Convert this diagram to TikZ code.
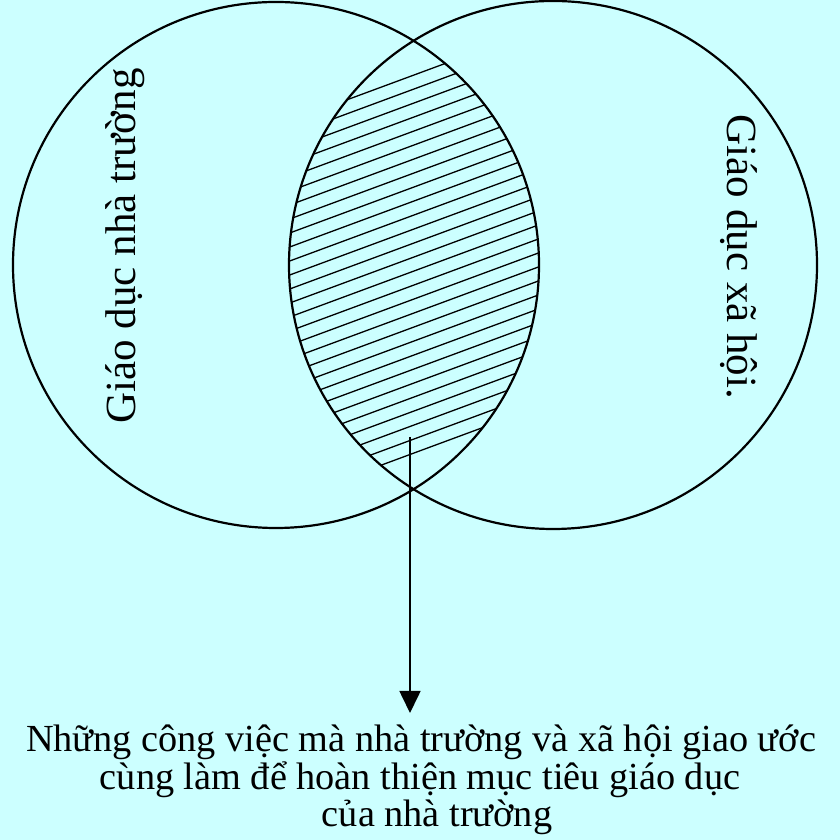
\documentclass[tikz,border=0pt]{standalone}
\usepackage{fontspec}
\setmainfont{Liberation Serif}
\usetikzlibrary{arrows.meta}
\definecolor{bgcyan}{RGB}{204,255,255}
\tikzset{
  ring/.style={draw=black, line width=2.2pt},
  hatchline/.style={draw=black, line width=1.3pt},
  pointer/.style={draw=black, line width=1.6pt, -{Triangle[width=21pt,length=22pt]}},
  sidelabel/.style={font=\fontsize{43}{43}\selectfont, inner sep=0pt, anchor=base},
  caption/.style={font=\fontsize{38.3}{38}\selectfont, inner sep=0pt, anchor=base}
}
\begin{document}
\begin{tikzpicture}[x=1pt,y=1pt]
  \fill[bgcyan] (0,0) rectangle (840,840);
  \useasboundingbox (0,0) rectangle (840,840);
  % hatching of the common part
  \begin{scope}
    \clip (276,575) circle (263);
    \clip (553,575) circle (264);
    \foreach \k in {0,...,27} {
      \draw[hatchline] (280,{840-75-14*\k-49.6}) -- (550,{840-75-14*\k+50.3});
    }
  \end{scope}
  % the two circles
  \draw[ring] (276,575) circle (263);
  \draw[ring] (553,575) circle (264);
  % labels
  \node[sidelabel, rotate=90] (lschool) at (135,594) {Giáo dục nhà trường};
  \node[sidelabel, rotate=-90] (lsociety) at (727,583) {Giáo dục xã hội.};
  % caption
  \node[caption] (t1) at (421,88) {Những công việc mà nhà trường và xã hội giao ước};
  \node[caption] (t2) at (420,50) {cùng làm để hoàn thiện mục tiêu giáo dục};
  \node[caption] (t3) at (437,13) {của nhà trường};
  % arrow
  \coordinate (arrstart) at (410,403);
  \coordinate (arrtip) at (410,127);
  \draw[pointer] (arrstart) -- (arrtip);
\end{tikzpicture}
\end{document}
